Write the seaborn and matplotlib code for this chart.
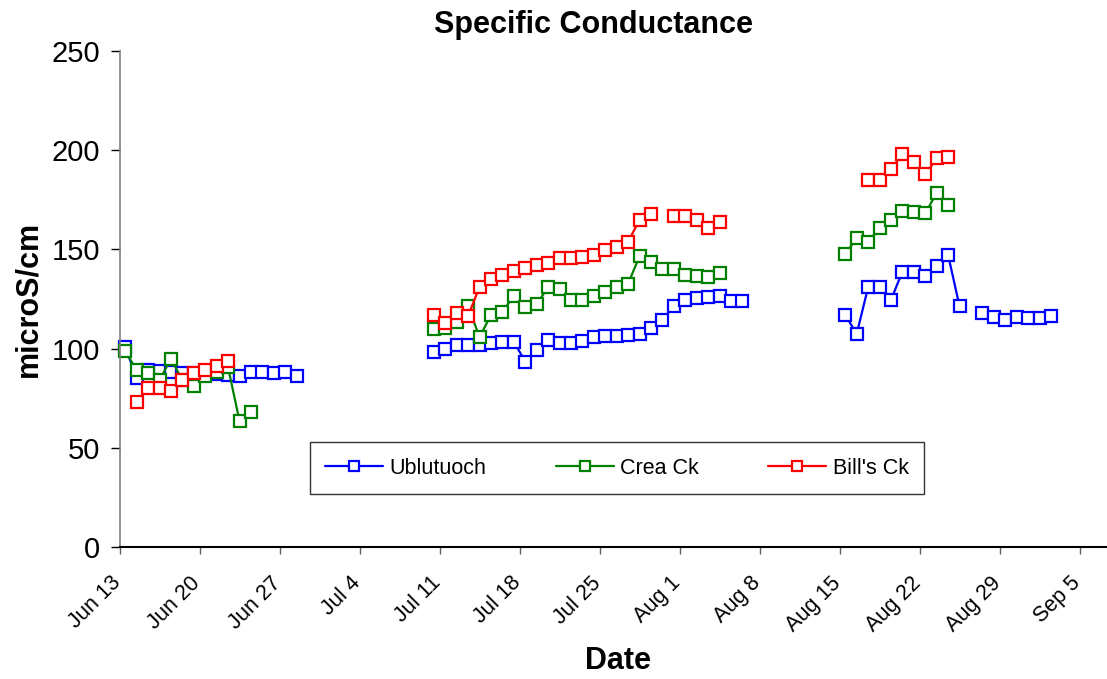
import numpy as np
import pandas as pd
import matplotlib
matplotlib.use("Agg")
import matplotlib.pyplot as plt
import matplotlib.transforms as mtransforms
import seaborn as sns

# ---------------- data ----------------
series_names = ["Ublutuoch", "Crea Ck", "Bill's Ck"]
colors = ["#0000FF", "#008000", "#FF0000"]

# period 1: Jun 13 - Jun 28
p1_start, p1_days = "2005-06-13 11:00", 16
blue_p1 = [101, 85, 89, 88.5, 88, 87.5, 87.5, 87, 87, 86.5, 86, 88, 88, 87.5, 88, 86]
green_p1 = [99, 89, 87.5, 84, 95, 84, 81, 86, 88, 90.5, 63.5, 68, None, None, None, None]
red_p1 = [None, 73, 80, 80, 78.5, 84, 87.5, 89, 91, 94, None, None, None, None, None, None]

# period 2: Jul 10 - Aug 6
p2_start, p2_days = "2005-07-10 11:00", 28
blue_p2 = [98.5, 100, 101.8, 102, 101.8, 103, 103.5, 103.5, 93.4, 99.3, 104.3, 103, 103, 104,
           106, 106.4, 106.5, 106.9, 107.4, 110.2, 114.4, 121.5, 124.5, 125.3, 126.2, 126.5, 124.1, 124.1]
green_p2 = [110, 110.5, 113.6, 121.5, 105.7, 117, 118.6, 126.5, 120.8, 122.5, 130.9, 129.9, 124.5, 124.5,
            126.5, 128.7, 130.9, 132.6, 146.7, 143.8, 140, 140, 137.1, 136.6, 136.2, 137.9, None, None]
red_p2 = [117, 113, 117.8, 116.4, 131.2, 135, 137, 139.3, 140.5, 142, 143, 145.5, 145.5, 146.2,
          147, 149.7, 151.4, 153.9, 164.8, 167.8, None, 166.8, 166.8, 164.8, 160.6, 164, None, None]

# period 3: Aug 15 - Sep 2
p3_start, p3_days = "2005-08-15 11:00", 19
blue_p3 = [117, 107.4, 130.9, 131.2, 124.5, 138.8, 138.8, 136.6, 141.6, 147.2, 121.3, None,
           117.8, 115.8, 114.4, 115.8, 115.3, 115.3, 116.4]
green_p3 = [147.7, 155.6, 153.9, 160.6, 164.8, 169.5, 169, 168.1, 178.6, 172.4,
            None, None, None, None, None, None, None, None, None]
red_p3 = [None, None, 185, 185, 190.3, 198, 193.9, 187.8, 195.9, 196.7,
          None, None, None, None, None, None, None, None, None]

tick_start, tick_end = "2005-06-13", "2005-09-05"

# ---------------- long table ----------------
periods = [
    (p1_start, p1_days, [blue_p1, green_p1, red_p1]),
    (p2_start, p2_days, [blue_p2, green_p2, red_p2]),
    (p3_start, p3_days, [blue_p3, green_p3, red_p3]),
]
rows = []
for start, n, vals in periods:
    dates = pd.date_range(start, periods=n, freq="D")
    for name, v in zip(series_names, vals):
        for d, y in zip(dates, v):
            rows.append((name, d, np.nan if y is None else float(y)))
df = pd.DataFrame(rows, columns=["site", "date", "value"])
df = df.sort_values(["site", "date"]).reset_index(drop=True)
# segment id: contiguous non-missing runs (so gaps are not bridged)
seg = []
for site, g in df.groupby("site", sort=False):
    s = g["value"].isna().cumsum()
    gap = g["date"].diff().dt.days.fillna(1).gt(1).cumsum()
    seg.extend((site + "_" + s.astype(str) + "_" + gap.astype(str)).tolist())
df["seg"] = seg
df = df.dropna(subset=["value"])

# ---------------- plot ----------------
sns.set_theme(style="white")
plt.rcParams["font.family"] = ["Liberation Sans", "DejaVu Sans"]
plt.rcParams["text.color"] = "black"
plt.rcParams["axes.labelcolor"] = "black"
plt.rcParams["xtick.color"] = "black"
plt.rcParams["ytick.color"] = "black"

fig = plt.figure(figsize=(11.07, 6.79), dpi=100)
ax = fig.add_axes([120 / 1107, 1 - 547 / 679, 987 / 1107, 496 / 679])

sns.lineplot(data=df, x="date", y="value", hue="site", units="seg", estimator=None,
             hue_order=series_names, palette=colors, ax=ax, sort=True,
             marker="s", markersize=9, markerfacecolor="white", markeredgewidth=1.6,
             linewidth=1.6, legend=True)
for ln in ax.lines:
    ln.set_markeredgecolor(ln.get_color())
    ln.set_clip_on(False)

ax.set_ylim(0, 250)
ax.set_yticks([0, 50, 100, 150, 200, 250])
x0 = pd.Timestamp(tick_start)
ax.set_xlim(x0, x0 + pd.Timedelta(days=86.36))
ticks = pd.date_range(tick_start, tick_end, freq="7D")
ax.set_xticks(ticks)
ax.tick_params(axis="y", labelsize=21, length=6.5, width=1, color="black", left=True, pad=8)
ax.tick_params(axis="x", length=5, width=1, color="#606060", bottom=True, pad=4)
ax.set_xticklabels([t.strftime("%b ") + str(t.day) for t in ticks],
                   rotation=45, ha="right", va="top", rotation_mode="anchor", fontsize=15.5)
shift = mtransforms.ScaledTranslation(-10 / 100, -13 / 100, fig.dpi_scale_trans)
for lab in ax.get_xticklabels():
    lab.set_transform(lab.get_transform() + shift)
for sp in ["top", "right"]:
    ax.spines[sp].set_visible(False)
ax.spines["left"].set_color("#808080")
ax.spines["left"].set_linewidth(1.2)
ax.spines["bottom"].set_color("black")
ax.spines["bottom"].set_linewidth(1.5)
ax.grid(False)

ax.set_xlabel("Date", fontsize=22, fontweight="bold")
ax.xaxis.set_label_coords((618 - 120) / 987, (547 - 661) / 496)
ax.xaxis.label.set_va("center")
ax.set_ylabel("microS/cm", fontsize=22, fontweight="bold")
ax.yaxis.set_label_coords((28 - 120) / 987, 0.5)
ax.yaxis.label.set_va("center")
fig.text(593 / 1107, 1 - 25 / 679, "Specific Conductance", ha="center", va="center",
         fontsize=22, fontweight="bold")

handles, labels = ax.get_legend_handles_labels()
leg = ax.legend(handles, labels, ncol=3, loc="center",
                bbox_to_anchor=((310 - 120) / 987, (547 - 494) / 496, (924 - 310) / 987, 52 / 496),
                mode="expand", frameon=True, fancybox=False, fontsize=15.5, handlelength=2.7,
                handletextpad=0.3, borderpad=0.7, borderaxespad=0, markerscale=0.75)
leg.get_frame().set_edgecolor("black")
leg.get_frame().set_linewidth(1.0)

fig.savefig("out.png", dpi=100)
